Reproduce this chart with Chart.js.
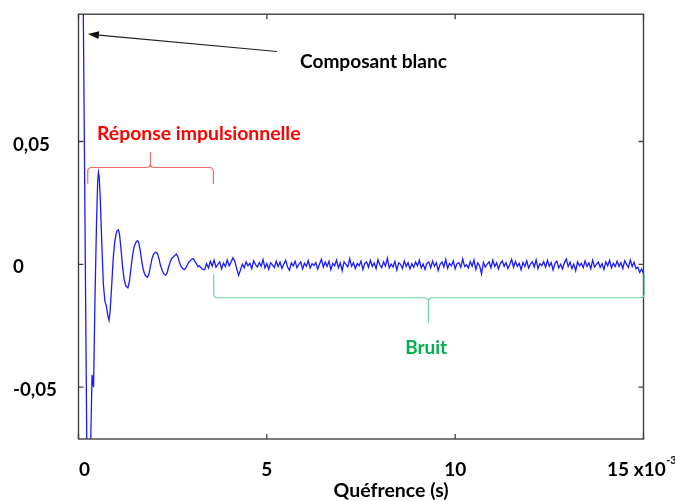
<!DOCTYPE html>
<html><head><meta charset="utf-8">
<script src="https://cdn.jsdelivr.net/npm/chart.js@4.4.1/dist/chart.umd.min.js"></script>
<style>html,body{margin:0;padding:0;background:#fff;overflow:hidden}</style>
</head><body>
<canvas id="c" width="675" height="501"></canvas>
<script>
// ---------- DATA ----------
const xTickValues = [0, 5, 10, 15];
const xTickLabels = ['\u2002\u20090', '5', '10', '15 x10\u2003'];
const xTickExponent = '-3';
const yTickValues = [-0.05, 0, 0.05];
const yTickLabels = ['-0,05', '0', '0,05'];
const xAxisTitle = 'Quéfrence (s)';
const labelWhite = 'Composant blanc';
const labelImpulse = 'Réponse impulsionnelle';
const labelNoise = 'Bruit';

// white component + impulse response (quefrency in ms, amplitude)
const headQuefrency = [0.00,0.10,0.25,0.30,0.36,0.40,0.44,0.48,0.51,0.53,0.55,0.58,0.62,0.66,0.70,0.74,0.78,0.81,0.84,0.88,0.92,0.96,1.00,1.03,1.06,1.09,1.13,1.17,1.21,1.25,1.28,1.31,1.35,1.39,1.43,1.47,1.51,1.54,1.57,1.60,1.64,1.68,1.72,1.76,1.80,1.83,1.87,1.91,1.95,1.99,2.03,2.06,2.10,2.14,2.18,2.22,2.26,2.31,2.35,2.39,2.44,2.48,2.52,2.56,2.60,2.64,2.68,2.72,2.76,2.81,2.85,2.89,2.93,2.97,3.01,3.05,3.09,3.13,3.17,3.21,3.25,3.29,3.32];
const headAmplitude = [0.16,0.155,-0.13,-0.09,-0.045,-0.05,-0.012,0.018,0.034,0.0374,0.0355,0.026,0.008,-0.008,-0.015,-0.017,-0.021,-0.0228,-0.019,-0.009,0.002,0.009,0.0125,0.0138,0.0141,0.0122,0.006,-0.001,-0.006,-0.0085,-0.0092,-0.0096,-0.0072,-0.002,0.003,0.0068,0.0085,0.0093,0.0096,0.0088,0.0055,0.0012,-0.0022,-0.0041,-0.0050,-0.0053,-0.0040,-0.0008,0.0022,0.0041,0.0047,0.0050,0.0043,0.0020,-0.0006,-0.0024,-0.0038,-0.0045,-0.0036,-0.0012,0.0012,0.0026,0.0030,0.0037,0.0042,0.0030,0.0008,-0.0008,-0.0016,-0.0022,-0.0015,-0.0002,0.0010,0.0015,0.0021,0.0023,0.0012,0.0003,-0.0010,-0.0006,-0.0014,-0.0019,-0.0022];

// noise part, sampled every 0.05 ms from 3.35 ms
const noiseStart = 3.35, noiseStep = 0.05;
const noiseAmplitude = [
-0.0021,0.0003,-0.0015,0.0012,-0.0008,0.0017,-0.0012,0.0000,0.0010,-0.0019,
0.0005,-0.0009,0.0018,-0.0006,0.0009,0.0027,0.0013,-0.0017,-0.0045,-0.0023,
0.0001,-0.0014,0.0010,-0.0006,0.0004,-0.0018,0.0014,-0.0001,-0.0011,0.0007,
-0.0008,0.0019,-0.0015,0.0003,-0.0020,0.0006,-0.0002,-0.0013,0.0012,-0.0009,
0.0009,-0.0017,0.0001,0.0016,-0.0011,-0.0024,0.0006,-0.0006,0.0013,-0.0014,
0.0000,0.0010,-0.0018,0.0004,-0.0008,0.0015,-0.0015,0.0003,-0.0005,0.0007,
-0.0020,0.0001,0.0021,-0.0012,0.0009,-0.0009,0.0012,-0.0022,0.0004,-0.0006,
0.0017,-0.0014,0.0006,-0.0026,0.0010,0.0000,-0.0011,0.0023,-0.0008,0.0007,
-0.0017,0.0003,-0.0006,0.0013,-0.0021,0.0004,0.0009,-0.0012,0.0016,-0.0009,
0.0006,-0.0018,0.0019,-0.0002,-0.0014,0.0010,-0.0008,0.0025,-0.0015,0.0001,
-0.0011,0.0012,-0.0023,0.0006,0.0000,-0.0017,0.0014,-0.0009,0.0007,-0.0019,
0.0003,-0.0012,0.0010,-0.0006,0.0017,-0.0015,0.0001,-0.0021,0.0004,0.0009,
-0.0014,0.0013,-0.0008,0.0006,-0.0025,0.0000,0.0010,-0.0011,0.0020,-0.0017,
0.0004,-0.0006,0.0014,-0.0018,0.0003,0.0007,-0.0012,0.0022,-0.0009,-0.0002,
-0.0015,0.0011,-0.0008,0.0018,-0.0021,0.0006,-0.0006,-0.0039,0.0008,-0.0011,
0.0001,0.0010,-0.0014,0.0017,-0.0009,0.0006,-0.0019,0.0003,0.0014,-0.0008,
0.0007,-0.0017,0.0000,0.0020,-0.0012,0.0012,-0.0008,0.0004,-0.0022,0.0008,
-0.0009,0.0014,-0.0015,0.0001,0.0010,-0.0011,0.0018,-0.0018,0.0003,-0.0005,
0.0011,-0.0012,0.0016,-0.0008,0.0007,-0.0023,0.0004,0.0013,-0.0015,0.0000,
-0.0019,0.0006,0.0021,-0.0009,0.0009,-0.0017,0.0001,-0.0026,0.0010,-0.0006,
0.0004,-0.0014,0.0014,-0.0008,0.0006,-0.0018,0.0017,-0.0011,0.0000,0.0009,
-0.0012,0.0003,-0.0021,0.0010,-0.0006,0.0016,-0.0015,0.0004,-0.0009,0.0013,
-0.0008,0.0007,-0.0017,0.0014,0.0000,-0.0012,0.0018,-0.0009,0.0009,-0.0018,
-0.0011,-0.0033,-0.0019,-0.0037];

// ---------- ANNOTATION PLACEMENT (data units) ----------
const annot = {
  arrow: {from: [5.27, 0.0866], to: [0.25, 0.0937]},
  whiteText: {x: 5.88, y: 0.0800},
  impulseText: {x: 0.49, y: 0.0506},
  redBrace: {x1: 0.245, x2: 3.58, xm: 1.91, yEnd: 0.0328, yBase: 0.0394, yTip: 0.0457},
  greenBrace: {x1: 3.59, x2: 15.02, xm: 9.29, yEnd: -0.0040, yBase: -0.0136, yTip: -0.0238},
  noiseText: {x: 9.23, y: -0.0364},
  titleX: 8.3
};

const FAMILY = 'Lato, "Open Sans", sans-serif';
function fitPx(text, target) {
  const m = document.createElement('canvas').getContext('2d');
  m.font = 'bold 100px ' + FAMILY;
  return Math.round(1000 * target / m.measureText(text).width) / 10;
}
const tickSizeY = fitPx('0,05', 37);
const tickSizeX = fitPx('10', 22);
const titleSize = fitPx(xAxisTitle, 115);
const whiteSize = fitPx(labelWhite, 147);
const impulseSize = fitPx(labelImpulse, 204);
const noiseSize = fitPx(labelNoise, 42);
const X_TICK_PAD = 19;

const noiseQuefrency = noiseAmplitude.map((_, i) => +(noiseStart + i * noiseStep).toFixed(2));
const points = headQuefrency.map((q, i) => ({x: q, y: headAmplitude[i]}))
  .concat(noiseQuefrency.map((q, i) => ({x: q, y: noiseAmplitude[i]})));

function drawBrace(ctx, X, Y, b, color) {
  const x1 = X(b.x1), x2 = X(b.x2), xm = X(b.xm);
  const ye = Y(b.yEnd), yb = Y(b.yBase), yt = Y(b.yTip);
  const s = Math.sign(yt - yb);
  const r = 4;
  ctx.save();
  ctx.strokeStyle = color; ctx.lineWidth = 1.2;
  ctx.beginPath();
  ctx.moveTo(x1, ye);
  ctx.lineTo(x1, yb - s * r);
  ctx.quadraticCurveTo(x1, yb, x1 + r, yb);
  ctx.lineTo(xm - r, yb);
  ctx.quadraticCurveTo(xm, yb, xm, yb + s * r);
  ctx.lineTo(xm, yt);
  ctx.moveTo(xm, yb + s * r);
  ctx.quadraticCurveTo(xm, yb, xm + r, yb);
  ctx.lineTo(x2 - r, yb);
  ctx.quadraticCurveTo(x2, yb, x2, yb - s * r);
  ctx.lineTo(x2, ye);
  ctx.stroke();
  ctx.restore();
}

const decor = {
  id: 'decor',
  afterDatasetsDraw(chart) {
    const {ctx, chartArea: a, scales: {x, y}} = chart;
    const X = v => x.getPixelForValue(v), Y = v => y.getPixelForValue(v);
    ctx.save();
    // frame
    ctx.strokeStyle = '#404040'; ctx.lineWidth = 1.4;
    ctx.strokeRect(a.left, a.top, a.right - a.left, a.bottom - a.top);
    // inward ticks
    ctx.lineWidth = 1.3;
    ctx.beginPath();
    xTickValues.forEach(v => { const p = X(v); ctx.moveTo(p, a.bottom); ctx.lineTo(p, a.bottom - 5); ctx.moveTo(p, a.top); ctx.lineTo(p, a.top + 5); });
    yTickValues.forEach(v => { const p = Y(v); ctx.moveTo(a.left, p); ctx.lineTo(a.left + 5, p); ctx.moveTo(a.right, p); ctx.lineTo(a.right - 5, p); });
    ctx.stroke();

    // exponent of last x tick label
    const last = xTickValues.length - 1;
    ctx.font = `bold ${tickSizeX}px ${FAMILY}`;
    const wFull = ctx.measureText(xTickLabels[last]).width;
    const wBase = ctx.measureText(xTickLabels[last].trimEnd()).width;
    const supX = X(xTickValues[last]) - wFull / 2 + wBase + 0.5;
    ctx.font = `bold ${Math.round(tickSizeX * 0.6)}px ${FAMILY}`;
    ctx.fillStyle = '#000';
    ctx.textAlign = 'left';
    ctx.textBaseline = 'alphabetic';
    ctx.fillText(xTickExponent, supX, a.bottom + 24.5);

    // arrow
    const ax0 = X(annot.arrow.from[0]), ay0 = Y(annot.arrow.from[1]);
    const ax1 = X(annot.arrow.to[0]), ay1 = Y(annot.arrow.to[1]);
    const ang = Math.atan2(ay1 - ay0, ax1 - ax0);
    const hl = 11, hw = 4;
    ctx.strokeStyle = '#222'; ctx.fillStyle = '#111'; ctx.lineWidth = 1.1;
    ctx.beginPath();
    ctx.moveTo(ax0, ay0);
    ctx.lineTo(ax1 - hl * Math.cos(ang), ay1 - hl * Math.sin(ang));
    ctx.stroke();
    ctx.beginPath();
    ctx.moveTo(ax1, ay1);
    ctx.lineTo(ax1 - hl * Math.cos(ang) + hw * Math.sin(ang), ay1 - hl * Math.sin(ang) - hw * Math.cos(ang));
    ctx.lineTo(ax1 - hl * Math.cos(ang) - hw * Math.sin(ang), ay1 - hl * Math.sin(ang) + hw * Math.cos(ang));
    ctx.closePath();
    ctx.fill();

    // texts
    ctx.textBaseline = 'alphabetic';
    ctx.textAlign = 'left';
    ctx.fillStyle = '#000';
    ctx.font = `bold ${whiteSize}px ${FAMILY}`;
    ctx.fillText(labelWhite, X(annot.whiteText.x), Y(annot.whiteText.y));
    ctx.fillStyle = '#ff0000';
    ctx.font = `bold ${impulseSize}px ${FAMILY}`;
    ctx.fillText(labelImpulse, X(annot.impulseText.x), Y(annot.impulseText.y));
    ctx.fillStyle = '#00b050';
    ctx.textAlign = 'center';
    ctx.font = `bold ${noiseSize}px ${FAMILY}`;
    ctx.fillText(labelNoise, X(annot.noiseText.x), Y(annot.noiseText.y));

    // braces
    drawBrace(ctx, X, Y, annot.redBrace, '#f06a6a');
    drawBrace(ctx, X, Y, annot.greenBrace, '#72d1a2');

    // axis title
    ctx.fillStyle = '#000';
    ctx.textAlign = 'center';
    ctx.textBaseline = 'alphabetic';
    ctx.font = `bold ${titleSize}px ${FAMILY}`;
    ctx.fillText(xAxisTitle, X(annot.titleX), a.bottom + 58);
    ctx.restore();
  }
};

new Chart(document.getElementById('c'), {
  type: 'line',
  data: {
    datasets: [{
      data: points,
      borderColor: '#1a1aff',
      borderWidth: 1.3,
      pointRadius: 0,
      tension: 0,
      fill: false
    }]
  },
  options: {
    responsive: false,
    devicePixelRatio: 1,
    animation: false,
    layout: {padding: {left: 13, top: 12, right: 31.5, bottom: 0}},
    plugins: {legend: {display: false}, tooltip: {enabled: false}},
    scales: {
      x: {
        type: 'linear',
        min: 0, max: 15,
        grid: {display: false, drawTicks: false},
        border: {display: false},
        afterBuildTicks: s => { s.ticks = xTickValues.map(v => ({value: v})); },
        afterFit: s => { s.height = 62; s.paddingLeft = 0; s.paddingRight = 0; },
        ticks: {
          autoSkip: false, maxRotation: 0, padding: X_TICK_PAD, color: '#000',
          font: {family: FAMILY, weight: 'bold', size: tickSizeX},
          callback: v => xTickLabels[xTickValues.indexOf(v)]
        }
      },
      y: {
        type: 'linear',
        min: -0.0711, max: 0.1018,
        grid: {display: false, drawTicks: false},
        border: {display: false},
        afterBuildTicks: s => { s.ticks = yTickValues.map(v => ({value: v})); },
        afterFit: s => { s.width = 65.5; },
        ticks: {
          crossAlign: 'far', labelOffset: 3, color: '#000',
          font: {family: FAMILY, weight: 'bold', size: tickSizeY},
          callback: v => yTickLabels[yTickValues.indexOf(v)]
        }
      }
    }
  },
  plugins: [decor]
});
</script>
</body></html>
